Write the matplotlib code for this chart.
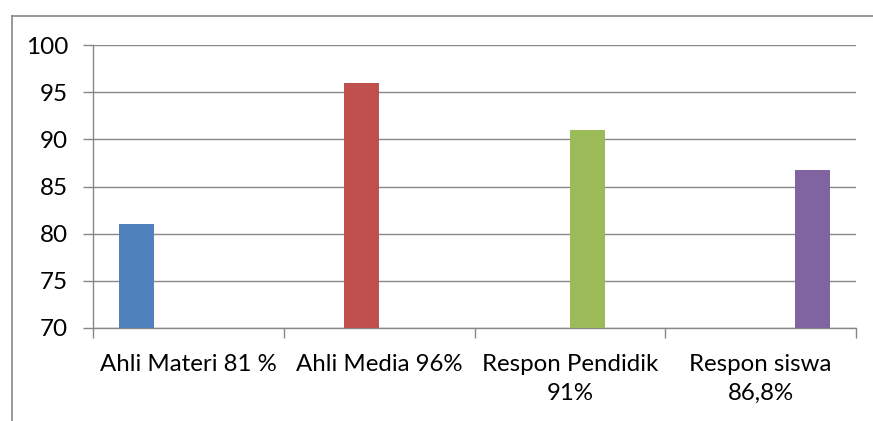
import numpy as np
import matplotlib.pyplot as plt
from matplotlib.lines import Line2D

# data
categories = ['Ahli Materi 81 %', 'Ahli Media 96%', 'Respon Pendidik\n91%', 'Respon siswa\n86,8%']
values = [81, 96, 91, 86.8]
colors = ['#4F81BD', '#C0504D', '#9BBB59', '#8064A2']
y_ticks = [70, 75, 80, 85, 90, 95, 100]

grid_col = '#878787'
plt.rcParams['font.family'] = ['Lato', 'DejaVu Sans']

W, H = 873, 421
fig = plt.figure(figsize=(W / 100, H / 100), dpi=100)
ax = fig.add_axes([93 / W, 1 - 328 / H, (856 - 93) / W, (328 - 45) / H])

# excel-style clustered chart: 4 series, gap width 150%
n = len(values)
bw = 1 / 5.5
x = np.arange(n)
for i in range(n):
    ax.bar(x[i] + (i - 1.5) * bw, values[i] - y_ticks[0], bottom=y_ticks[0],
           width=bw, color=colors[i], zorder=3)

ax.set_xlim(-0.5, n - 0.5)
ax.set_ylim(y_ticks[0], y_ticks[-1])
ax.set_yticks(y_ticks)
ax.set_yticklabels([str(t) for t in y_ticks], fontsize=17.5)
ax.yaxis.grid(True, color=grid_col, linewidth=1, zorder=0)

ax.set_xticks(x)
ax.set_xticklabels(categories, fontsize=17.3, linespacing=1.45)
ax.set_xticks(np.arange(n + 1) - 0.5, minor=True)
ax.tick_params(axis='x', which='major', length=0, pad=19)
ax.tick_params(axis='x', which='minor', length=7, color=grid_col, width=1)
ax.tick_params(axis='y', length=7, color=grid_col, width=1, pad=11)

for s in ['top', 'right']:
    ax.spines[s].set_visible(False)
for s in ['left', 'bottom']:
    ax.spines[s].set_color(grid_col)
    ax.spines[s].set_linewidth(1)

# outer chart frame (only left and top edges show)
fig.add_artist(Line2D([11.5 / W, 11.5 / W], [0, 1 - 15.5 / H], transform=fig.transFigure,
                      color=grid_col, linewidth=1.2))
fig.add_artist(Line2D([11.5 / W, 1], [1 - 15.5 / H, 1 - 15.5 / H], transform=fig.transFigure,
                      color=grid_col, linewidth=1.2))

fig.savefig('out.png', dpi=100)
